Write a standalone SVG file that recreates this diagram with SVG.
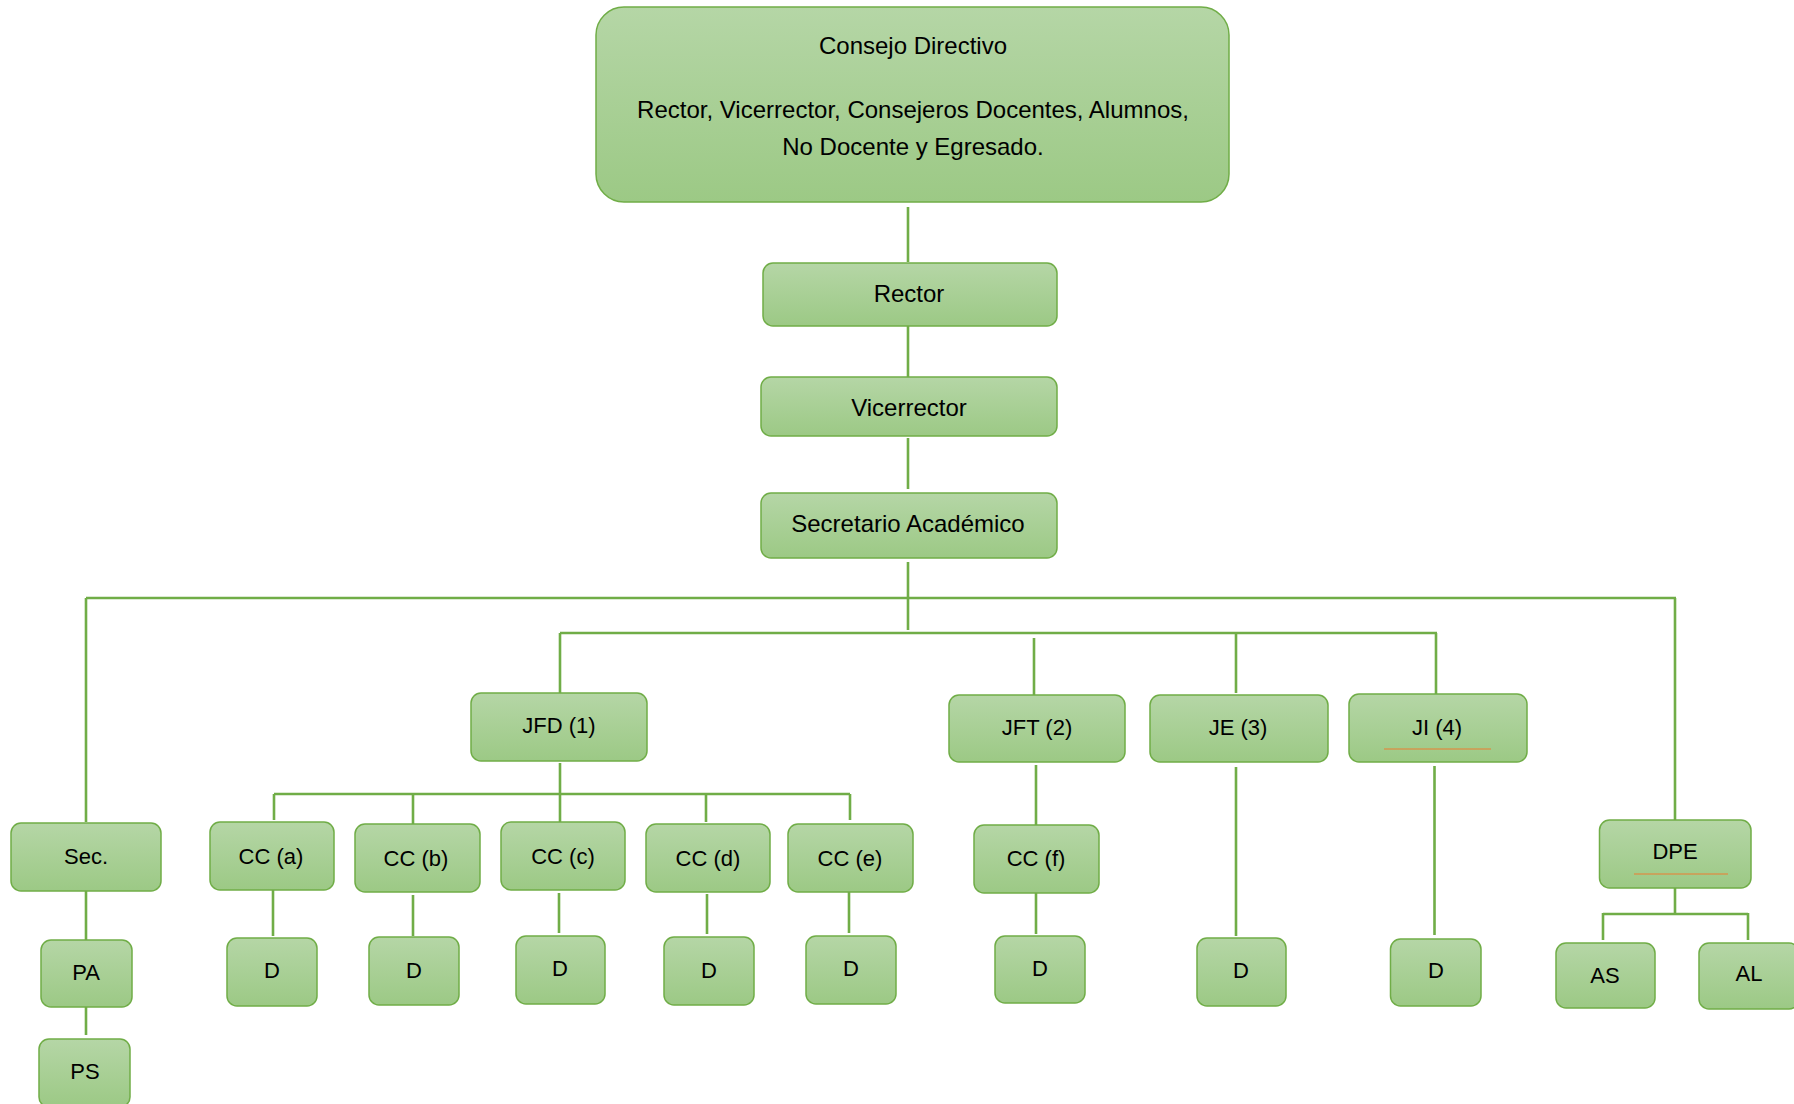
<svg xmlns="http://www.w3.org/2000/svg" width="1794" height="1104" viewBox="0 0 1794 1104">
<defs>
<linearGradient id="g" x1="0" y1="0" x2="0" y2="1">
<stop offset="0" stop-color="#b5d6a6"/>
<stop offset="1" stop-color="#9cc985"/>
</linearGradient>
<style>
.n{fill:url(#g);stroke:#70ad47;stroke-width:1.5}
.t{font-family:"Liberation Sans",Arial,sans-serif;font-size:22px;fill:#000;text-anchor:middle}
.b{font-size:24px}
.c{stroke:#70ad47;stroke-width:2.6;fill:none}
.u{stroke:#ed7d31;stroke-width:1.2}
</style>
</defs>
<rect width="1794" height="1104" fill="#fff"/>
<g id="connectors" class="c">
<path d="M908 207V262M908 326V377M908 438V489M908 562V630"/>
<path d="M86 598H1676M86 598V822M1675 598V820"/>
<path d="M560 633H1437M560 633V693M1034 638V696M1236 633V693M1436 633V694"/>
<path d="M560 763V822M274 794H850M274 794V820M413 794V824M706 794V822M850 794V820"/>
<path d="M273 890V936M413 895V936M559 893V933M707 894V934M849 892V933"/>
<path d="M1036 765V825M1036 893V934M1236 767V936M1434.5 766V935"/>
<path d="M86 891V940M86 1007V1035"/>
<path d="M1675 888V914M1603 914H1748M1603 913V940M1748 913V940"/>
</g>
<g id="consejo"><rect class="n" x="596" y="7" width="633" height="195" rx="28"/>
<text class="t b" x="913" y="54">Consejo Directivo</text>
<text class="t b" x="913" y="118">Rector, Vicerrector, Consejeros Docentes, Alumnos,</text>
<text class="t b" x="913" y="155">No Docente y Egresado.</text></g>
<g id="rector"><rect class="n" x="763" y="263" width="294" height="63" rx="10"/><text class="t b" x="909" y="302">Rector</text></g>
<g id="vicerrector"><rect class="n" x="761" y="377" width="296" height="59" rx="10"/><text class="t b" x="909" y="416">Vicerrector</text></g>
<g id="secretario"><rect class="n" x="761" y="493" width="296" height="65" rx="10"/><text class="t b" x="908" y="532">Secretario Académico</text></g>
<g id="jfd"><rect class="n" x="471" y="693" width="176" height="68" rx="10"/><text class="t" x="559" y="733">JFD (1)</text></g>
<g id="jft"><rect class="n" x="949" y="695" width="176" height="67" rx="10"/><text class="t" x="1037" y="735">JFT (2)</text></g>
<g id="je"><rect class="n" x="1150" y="695" width="178" height="67" rx="10"/><text class="t" x="1238" y="735">JE (3)</text></g>
<g id="ji"><rect class="n" x="1349" y="694" width="178" height="68" rx="10"/><text class="t" x="1437" y="735">JI (4)</text><line class="u" x1="1384" y1="749" x2="1491" y2="749"/></g>
<g id="sec"><rect class="n" x="11" y="823" width="150" height="68" rx="10"/><text class="t" x="86" y="864">Sec.</text></g>
<g id="cca"><rect class="n" x="210" y="822" width="124" height="68" rx="10"/><text class="t" x="271" y="864">CC (a)</text></g>
<g id="ccb"><rect class="n" x="355" y="824" width="125" height="68" rx="10"/><text class="t" x="416" y="866">CC (b)</text></g>
<g id="ccc"><rect class="n" x="501" y="822" width="124" height="68" rx="10"/><text class="t" x="563" y="864">CC (c)</text></g>
<g id="ccd"><rect class="n" x="646" y="824" width="124" height="68" rx="10"/><text class="t" x="708" y="866">CC (d)</text></g>
<g id="cce"><rect class="n" x="788" y="824" width="125" height="68" rx="10"/><text class="t" x="850" y="866">CC (e)</text></g>
<g id="ccf"><rect class="n" x="974" y="825" width="125" height="68" rx="10"/><text class="t" x="1036" y="866">CC (f)</text></g>
<g id="dpe"><rect class="n" x="1599.5" y="820" width="151.5" height="68" rx="10"/><text class="t" x="1675" y="859">DPE</text><line class="u" x1="1634" y1="874" x2="1728" y2="874"/></g>
<g id="pa"><rect class="n" x="41" y="940" width="91" height="67" rx="10"/><text class="t" x="86" y="980">PA</text></g>
<g id="ps"><rect class="n" x="39" y="1039" width="91" height="68" rx="10"/><text class="t" x="85" y="1079">PS</text></g>
<g id="da"><rect class="n" x="227" y="938" width="90" height="68" rx="10"/><text class="t" x="272" y="978">D</text></g>
<g id="db"><rect class="n" x="369" y="937" width="90" height="68" rx="10"/><text class="t" x="414" y="978">D</text></g>
<g id="dc"><rect class="n" x="516" y="936" width="89" height="68" rx="10"/><text class="t" x="560" y="976">D</text></g>
<g id="dd"><rect class="n" x="664" y="937" width="90" height="68" rx="10"/><text class="t" x="709" y="978">D</text></g>
<g id="de"><rect class="n" x="806" y="936" width="90" height="68" rx="10"/><text class="t" x="851" y="976">D</text></g>
<g id="df"><rect class="n" x="995" y="936" width="90" height="67" rx="10"/><text class="t" x="1040" y="976">D</text></g>
<g id="dje"><rect class="n" x="1197" y="938" width="89" height="68" rx="10"/><text class="t" x="1241" y="978">D</text></g>
<g id="dji"><rect class="n" x="1390.5" y="939" width="90.5" height="67" rx="10"/><text class="t" x="1436" y="978">D</text></g>
<g id="as"><rect class="n" x="1556" y="943" width="99" height="65" rx="10"/><text class="t" x="1605" y="983">AS</text></g>
<g id="al"><rect class="n" x="1699" y="943" width="100" height="66" rx="10"/><text class="t" x="1749" y="981">AL</text></g>
</svg>
